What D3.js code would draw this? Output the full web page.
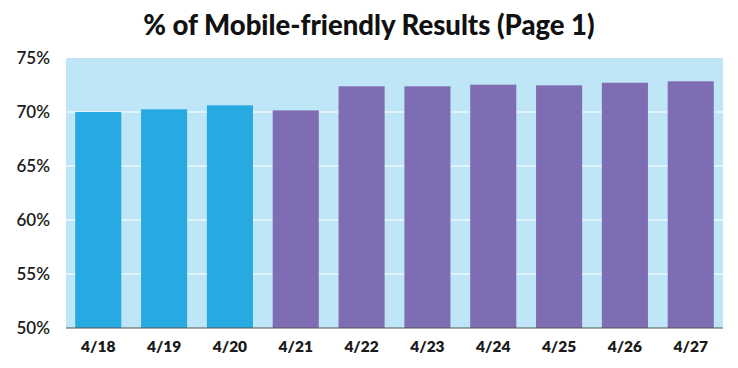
<!DOCTYPE html>
<html>
<head>
<meta charset="utf-8">
<script src="https://cdn.jsdelivr.net/npm/d3@7"></script>
<style>
  body { margin: 0; background: #fff; }
  svg { display: block; }
</style>
</head>
<body>
<div id="container"></div>
<script>
var dates = ["4/18", "4/19", "4/20", "4/21", "4/22", "4/23", "4/24", "4/25", "4/26", "4/27"];
var pctValues = [70.0, 70.25, 70.62, 70.15, 72.38, 72.38, 72.53, 72.47, 72.71, 72.84];
var groups = ["before", "before", "before", "after", "after", "after", "after", "after", "after", "after"];
var yTicks = [50, 55, 60, 65, 70, 75];

var WIDTH = 738, HEIGHT = 368;
var margin = {top: 58, right: 15, bottom: 40, left: 66};

var svg = d3.select("#container").append("svg")
    .attr("width", WIDTH)
    .attr("height", HEIGHT);

var x = d3.scaleBand()
    .domain(dates)
    .range([margin.left, WIDTH - margin.right])
    .paddingInner(0.3)
    .paddingOuter(0.14);

var y = d3.scaleLinear()
    .domain([50, 75])
    .range([HEIGHT - margin.bottom, margin.top]);

var color = {before: "#27aae1", after: "#7f6db3"};

// plot background
svg.append("rect")
    .attr("x", margin.left)
    .attr("y", y(75))
    .attr("width", WIDTH - margin.right - margin.left)
    .attr("height", y(50) - y(75))
    .attr("fill", "#bee6f6");

// gridlines
svg.append("g")
    .selectAll("line")
    .data(yTicks.filter(function(d){ return d > 50 && d < 75; }))
    .join("line")
    .attr("x1", margin.left)
    .attr("x2", WIDTH - margin.right)
    .attr("y1", function(d){ return y(d); })
    .attr("y2", function(d){ return y(d); })
    .attr("stroke", "#ffffff")
    .attr("stroke-width", 1.2);

// bars
svg.append("g")
    .selectAll("rect")
    .data(pctValues)
    .join("rect")
    .attr("x", function(d, i){ return x(dates[i]); })
    .attr("y", function(d){ return y(d); })
    .attr("width", x.bandwidth())
    .attr("height", function(d){ return y(50) - y(d); })
    .attr("fill", function(d, i){ return color[groups[i]]; });

// y axis labels
var yAxis = svg.append("g")
    .attr("transform", "translate(" + margin.left + ",0)")
    .call(d3.axisLeft(y).tickValues(yTicks).tickFormat(function(d){ return d + "%"; }).tickSize(0).tickPadding(16));
yAxis.select(".domain").remove();
yAxis.selectAll("text")
    .attr("font-family", "Lato, 'Open Sans', sans-serif")
    .attr("font-weight", "600")
    .attr("font-size", 17)
    .attr("fill", "#1a1a1a");

// x axis
var xAxis = svg.append("g")
    .attr("transform", "translate(0," + y(50) + ")")
    .call(d3.axisBottom(x).tickSize(0).tickPadding(13));
xAxis.select(".domain")
    .attr("stroke", "#555")
    .attr("stroke-width", 1.2)
    .attr("d", "M" + margin.left + ",0H" + (WIDTH - margin.right));
xAxis.selectAll("text")
    .attr("font-family", "Lato, 'Open Sans', sans-serif")
    .attr("font-weight", "800")
    .attr("font-size", 15.5)
    .attr("fill", "#1a1a1a");

// title
svg.append("text")
    .attr("x", WIDTH / 2)
    .attr("y", 35)
    .attr("text-anchor", "middle")
    .attr("font-family", "Lato, 'Open Sans', sans-serif")
    .attr("font-weight", "900")
    .attr("font-size", 27.5)
    .attr("fill", "#111")
    .text("% of Mobile-friendly Results (Page 1)");
</script>
</body>
</html>
